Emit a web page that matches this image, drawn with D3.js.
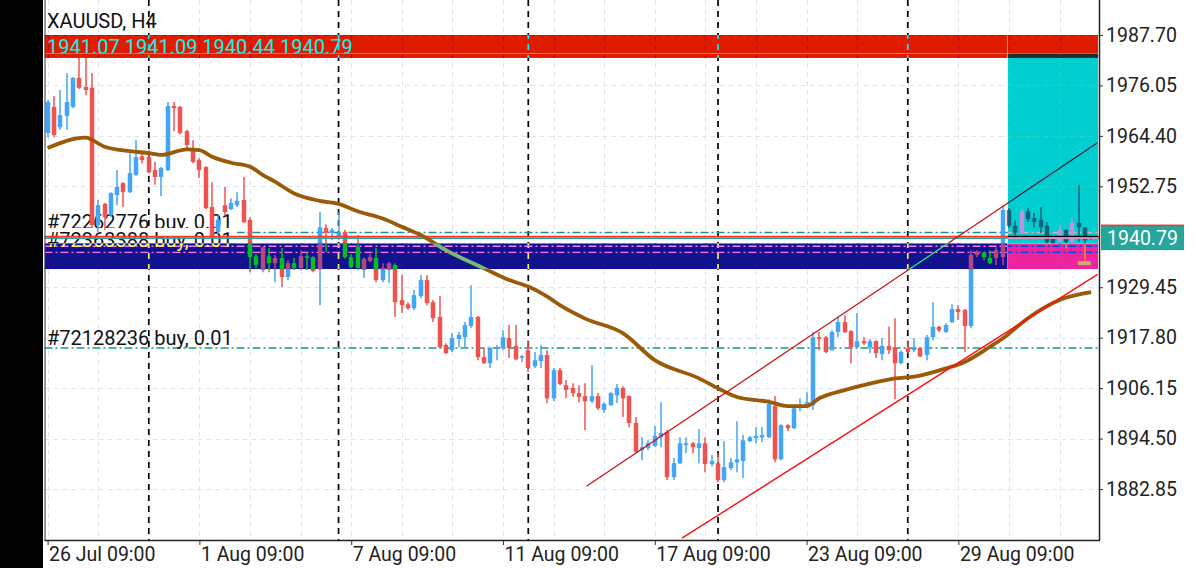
<!DOCTYPE html>
<html>
<head>
<meta charset="utf-8">
<script src="https://cdn.jsdelivr.net/npm/d3@7"></script>
<style>
html, body { margin: 0; padding: 0; background: #fff; overflow: hidden; }
svg { display: block; font-family: Roboto, "Noto Sans", sans-serif; }
</style>
</head>
<body>
<script>
// H4 bars, index 0 = 26 Jul 09:00
const open = [
1965.1,1971.1,1966.4,1969.0,1971.1,1977.8,1975.7,1975.5,1943.8,1948.7,
1946.1,1950.7,1953.5,1951.4,1955.4,1959.7,1959.5,1956.5,1954.9,1956.5,
1971.3,1971.1,1965.5,1961.6,1958.8,1957.2,1948.0,1942.2,1948.4,1947.5,
1948.4,1949.6,1945.0,1936.6,1933.4,1936.6,1935.0,1936.2,1931.8,1935.0,
1933.9,1936.6,1936.4,1933.6,1943.1,1942.0,1941.3,1942.2,1936.4,1938.7,
1933.4,1935.5,1936.2,1931.1,1933.4,1934.6,1926.5,1925.5,1924.6,1927.4,
1931.1,1926.0,1922.6,1916.1,1914.9,1917.5,1917.9,1920.5,1922.6,1913.3,
1911.9,1915.4,1915.4,1917.7,1915.9,1913.1,1914.9,1911.2,1912.4,1913.8,
1903.8,1910.3,1906.8,1906.2,1905.0,1904.3,1903.1,1904.3,1901.1,1902.2,
1904.5,1906.2,1904.3,1898.1,1891.8,1892.3,1892.8,1894.8,1896.0,1885.6,
1888.8,1893.0,1893.4,1892.3,1893.4,1888.6,1888.8,1884.9,1887.7,1889.0,
1889.3,1893.9,1894.6,1894.8,1894.8,1902.0,1889.7,1897.6,1896.9,1901.5,
1902.0,1902.2,1917.9,1917.9,1914.9,1919.1,1921.4,1919.3,1915.6,1917.0,
1915.6,1917.0,1914.0,1915.9,1915.4,1911.9,1915.4,1914.9,1915.4,1913.8,
1917.9,1920.3,1919.1,1921.4,1924.4,1924.2,1920.5,1936.9,1937.4,1936.2,
1936.2,1936.4,1947.3,1943.6,1942.0,1947.0,1945.4,1945.0,1943.6,1940.6,
1939.9,1942.7,1939.9,1944.3,1943.3,1941.07
];
const high = [
1972.7,1973.6,1975.0,1978.9,1978.0,1982.4,1982.4,1978.9,1949.6,1948.9,
1951.4,1956.5,1953.7,1960.4,1963.4,1960.4,1961.1,1958.4,1957.2,1972.2,
1972.2,1971.3,1965.8,1963.4,1959.3,1957.4,1953.7,1946.1,1952.6,1950.0,
1951.4,1954.9,1945.6,1937.1,1938.9,1938.5,1936.9,1938.5,1935.7,1936.2,
1938.0,1937.4,1936.6,1946.8,1944.0,1943.1,1946.8,1942.7,1937.1,1941.5,
1936.4,1937.1,1938.5,1935.0,1935.3,1935.0,1932.3,1926.0,1928.8,1932.3,
1932.3,1926.5,1927.4,1916.5,1918.9,1919.1,1921.4,1929.9,1922.8,1915.4,
1915.6,1916.1,1919.5,1920.7,1920.7,1913.8,1917.2,1914.5,1916.1,1914.9,
1910.8,1910.8,1908.0,1907.3,1906.8,1907.3,1911.5,1905.0,1902.9,1905.2,
1907.1,1906.6,1904.5,1899.5,1894.8,1894.1,1897.4,1902.9,1896.5,1890.0,
1894.8,1894.8,1893.7,1896.7,1894.8,1890.7,1891.1,1893.9,1890.0,1898.5,
1895.3,1895.1,1897.1,1897.1,1903.6,1904.3,1897.8,1897.8,1901.8,1903.8,
1905.2,1919.1,1919.1,1918.2,1919.5,1922.6,1923.0,1919.5,1923.5,1917.9,
1917.5,1917.2,1917.7,1920.3,1922.3,1914.9,1917.2,1917.7,1915.6,1918.4,
1926.0,1920.5,1921.2,1925.5,1925.3,1924.4,1938.0,1938.0,1937.6,1938.0,
1938.7,1948.4,1947.7,1945.0,1947.5,1947.7,1946.6,1948.0,1944.5,1940.8,
1943.8,1942.7,1945.6,1953.1,1943.3,1941.09
];
const low = [
1964.1,1964.1,1965.8,1965.8,1970.8,1975.2,1973.8,1943.1,1942.2,1942.7,
1945.6,1948.4,1948.0,1951.2,1955.1,1958.1,1955.8,1953.1,1950.5,1956.3,
1965.5,1964.8,1961.1,1958.1,1954.7,1947.5,1940.8,1941.7,1946.1,1947.3,
1948.0,1944.3,1932.9,1933.9,1932.9,1932.9,1930.6,1929.5,1931.1,1933.4,
1933.4,1933.4,1932.9,1925.3,1937.6,1940.3,1940.3,1936.0,1933.9,1933.4,
1931.6,1935.3,1930.6,1930.6,1930.4,1922.6,1923.5,1924.2,1924.2,1926.9,
1925.3,1921.4,1915.4,1914.0,1914.5,1915.6,1915.6,1920.0,1912.6,1911.7,
1910.8,1912.6,1914.9,1913.1,1912.6,1912.2,1909.8,1910.8,1910.8,1902.7,
1903.1,1906.8,1903.8,1904.1,1902.9,1896.5,1902.7,1901.1,1900.4,1902.0,
1902.7,1899.5,1897.1,1891.1,1889.5,1891.8,1892.5,1892.5,1884.9,1884.9,
1888.6,1891.1,1891.1,1888.8,1886.7,1888.1,1884.4,1884.4,1887.2,1886.7,
1885.4,1893.7,1893.4,1893.7,1894.6,1889.0,1889.5,1896.2,1896.7,1900.8,
1901.8,1901.1,1914.9,1914.2,1914.9,1917.9,1918.9,1911.9,1915.4,1916.1,
1914.2,1913.1,1912.6,1914.0,1903.6,1911.7,1914.2,1914.5,1913.3,1912.6,
1917.2,1919.1,1918.9,1921.2,1921.9,1914.5,1920.0,1936.4,1935.7,1934.8,
1934.6,1934.6,1943.1,1941.5,1941.7,1944.5,1943.3,1942.0,1939.2,1939.4,
1938.9,1938.5,1939.6,1939.9,1934.6,1940.44
];
const close = [
1972.2,1964.6,1969.2,1972.2,1977.8,1975.5,1975.0,1943.8,1948.4,1945.6,
1951.2,1952.6,1951.4,1955.8,1959.5,1958.8,1956.0,1954.9,1957.0,1971.3,
1970.8,1965.1,1962.3,1958.4,1956.5,1947.7,1941.0,1945.0,1946.8,1948.9,
1949.4,1944.5,1936.4,1934.6,1938.7,1935.0,1936.2,1931.8,1935.0,1933.9,
1936.6,1936.2,1933.2,1943.3,1942.0,1942.7,1942.0,1936.4,1934.1,1933.9,
1936.0,1936.4,1931.1,1933.9,1935.0,1926.0,1925.3,1924.6,1927.6,1931.1,
1925.8,1922.3,1915.6,1914.2,1917.7,1918.4,1920.7,1922.6,1913.3,1911.9,
1915.4,1915.6,1917.9,1915.4,1912.8,1913.5,1910.8,1912.6,1913.8,1903.8,
1910.3,1907.1,1905.7,1905.0,1904.1,1903.1,1904.3,1901.5,1902.5,1905.0,
1906.2,1903.8,1898.1,1891.4,1892.5,1893.4,1895.1,1895.8,1885.6,1888.8,
1893.4,1893.4,1892.5,1893.4,1888.6,1889.3,1884.9,1887.9,1889.0,1889.7,
1894.1,1894.8,1895.1,1895.3,1902.5,1889.7,1897.6,1896.9,1901.5,1902.0,
1902.9,1917.9,1917.5,1914.5,1919.1,1921.4,1919.1,1915.6,1917.0,1916.5,
1917.0,1914.2,1915.9,1914.9,1911.9,1914.5,1914.5,1915.4,1913.5,1917.9,
1920.3,1919.5,1920.7,1924.4,1923.7,1920.5,1936.9,1937.6,1936.4,1935.0,
1938.0,1947.3,1943.6,1942.0,1947.0,1945.2,1944.5,1943.3,1939.9,1939.6,
1942.7,1939.9,1944.3,1943.3,1940.3,1940.79
];

// moving average at some bars
const maIdx = [0,6,9,13,16,18,22,24,26,29,32,34,36,39,43,46,49,53,56,59,63,69,73,76,79,81,85,91,96,103,106,109,114,117,120,122,126,130,134,137,142,145,149,151,155,160,165];
const maVal = [1961.6,1964.0,1961.9,1960.9,1960.4,1960.0,1961.3,1961.1,1959.6,1958.2,1957.3,1955.4,1953.8,1951.1,1949.4,1948.7,1947.0,1945.3,1943.4,1941.5,1938.0,1933.8,1931.1,1929.6,1927.3,1925.3,1922.2,1918.8,1912.6,1908.4,1906.1,1904.1,1903.0,1902.0,1902.0,1903.8,1905.7,1907.2,1908.4,1908.8,1910.7,1912.2,1915.7,1917.6,1922.3,1926.5,1928.3];

// channel trend lines [bar index, price]
const upperChannel = [[85.2, 1883.5], [166, 1962.8]];
const lowerChannel = [[100.3, 1871.5], [166, 1932.4]];

const priceTicks = [1987.70, 1976.05, 1964.40, 1952.75, 1929.45, 1917.80, 1906.15, 1894.50, 1882.85];
const gridPrices = [1987.70, 1976.05, 1964.40, 1952.75, 1941.10, 1929.45, 1917.80, 1906.15, 1894.50, 1882.85];
const timeTickIdx = [0, 24, 48, 72, 96, 120, 144];
const timeTickLabels = ["26 Jul 09:00", "1 Aug 09:00", "7 Aug 09:00", "11 Aug 09:00", "17 Aug 09:00", "23 Aug 09:00", "29 Aug 09:00"];
const weekStartIdx = [16, 46, 76, 106, 136];

const symbolTitle = "XAUUSD, H4";
const lastQuote = [1941.07, 1941.09, 1940.44, 1940.79];
const bidPrice = 1940.79;
const askPrice = 1941.15;

const orderLabels = ["#72262776 buy, 0.01", "#72363388 buy, 0.01", "#72128236 buy, 0.01"];
const orderPrices = [1942.1, 1938.9, 1915.4];
const extraLevels = [1937.5];

// rectangles: [fromIdx, topPrice, bottomPrice]
const redZone = [-1, 1987.7, 1982.4];
const tradeBox = [151.8, 1983.5, 1933.6];
const blueZone = [-1, 1939.6, 1933.6];
const markerIdx = 164, markerPrice = 1935.0;

const W = 1200, H = 568;
const plotL = 44.5, plotR = 1099, plotT = 0, plotB = 540;

const x = d3.scaleLinear().domain([0, 165]).range([47.6, 1091.2]);
const y = d3.scaleLinear().domain([1882.85, 1987.70]).range([489, 35]);

const BULL = "#42a5f5", BEAR = "#ef5350", GRID = "#dce5ec", TEXT = "#111111";
const MA = "#9a5a08", ORDER = "#119a8a", BID = "#26a69a", ASK = "#ff3030";
const labelFont = "20px";
const labelBaseline = [y(orderPrices[0]) - 3, y(orderPrices[1]) + 0.5, y(orderPrices[2]) - 3];

const svg = d3.select("body").append("svg").attr("width", W).attr("height", H);
const defs = svg.append("defs");
svg.append("rect").attr("width", W).attr("height", H).attr("fill", "#fff");

function xorColor(c, mask) {
    const r = d3.rgb(c);
    return d3.rgb(r.r ^ ((mask >> 16) & 255), r.g ^ ((mask >> 8) & 255), r.b ^ (mask & 255)).formatHex();
}

function drawLayer(g, f) {
    g.append("g").selectAll("line").data(d3.range(0, 170, 8)).join("line")
        .attr("x1", d => Math.round(x(d)) + 0.5).attr("x2", d => Math.round(x(d)) + 0.5)
        .attr("y1", plotT).attr("y2", plotB)
        .attr("stroke", f(GRID)).attr("stroke-dasharray", "5,4");
    g.append("g").selectAll("line").data(gridPrices).join("line")
        .attr("x1", plotL).attr("x2", plotR)
        .attr("y1", d => Math.round(y(d)) + 0.5).attr("y2", d => Math.round(y(d)) + 0.5)
        .attr("stroke", f(GRID)).attr("stroke-dasharray", "5,4");

    g.append("g").selectAll("line").data(weekStartIdx).join("line")
        .attr("x1", d => x(d)).attr("x2", d => x(d))
        .attr("y1", plotT).attr("y2", plotB)
        .attr("stroke", f("#000000")).attr("stroke-width", 1.7).attr("stroke-dasharray", "6,5");

    // order lines
    g.append("g").selectAll("line").data(orderPrices.concat(extraLevels)).join("line")
        .attr("x1", plotL).attr("x2", plotR)
        .attr("y1", d => y(d)).attr("y2", d => y(d))
        .attr("stroke", f(ORDER)).attr("stroke-width", 1.4).attr("stroke-dasharray", "8,3,2,3");

    // order labels; the second one sits on a white box that hides what is under it
    const t = g.append("g").attr("font-size", labelFont).attr("fill", f(TEXT));
    t.append("text").attr("x", 47).attr("y", labelBaseline[0]).text(orderLabels[0]);
    t.append("rect").attr("x", plotL).attr("width", 237 - plotL)
        .attr("y", labelBaseline[0] - 1.5).attr("height", y(blueZone[1]) - labelBaseline[0] + 1.5)
        .attr("fill", f("#ffffff"));
    t.append("text").attr("x", 47).attr("y", labelBaseline[1]).text(orderLabels[1]);
    t.append("text").attr("x", 47).attr("y", labelBaseline[2]).text(orderLabels[2]);

    // candles
    const idx = d3.range(open.length);
    const cg = g.append("g");
    cg.selectAll("line").data(idx).join("line")
        .attr("x1", i => Math.round(x(i))).attr("x2", i => Math.round(x(i)))
        .attr("y1", i => y(high[i])).attr("y2", i => y(low[i]))
        .attr("stroke", i => f(close[i] >= open[i] ? BULL : BEAR)).attr("stroke-width", 1.5);
    cg.selectAll("rect").data(idx).join("rect")
        .attr("x", i => Math.round(x(i)) - 2.25).attr("width", 4.5)
        .attr("y", i => y(Math.max(open[i], close[i])))
        .attr("height", i => Math.max(1.2, Math.abs(y(open[i]) - y(close[i]))))
        .attr("fill", i => f(close[i] >= open[i] ? BULL : BEAR));

    g.append("rect")
        .attr("x", x(markerIdx) - 7).attr("width", 13)
        .attr("y", y(markerPrice) - 2).attr("height", 4)
        .attr("fill", f("#c27430"));

    // ask / bid lines
    g.append("line").attr("x1", plotL).attr("x2", plotR)
        .attr("y1", y(askPrice)).attr("y2", y(askPrice))
        .attr("stroke", f(ASK)).attr("stroke-width", 1.6);
    g.append("line").attr("x1", plotL).attr("x2", plotR)
        .attr("y1", y(bidPrice)).attr("y2", y(bidPrice))
        .attr("stroke", f(BID)).attr("stroke-width", 1.6);

    // moving average
    const maLine = d3.line().x(d => x(d[0])).y(d => y(d[1])).curve(d3.curveMonotoneX);
    g.append("path").datum(maIdx.map((d, i) => [d, maVal[i]]))
        .attr("d", maLine).attr("fill", "none")
        .attr("stroke", f(MA)).attr("stroke-width", 3.8).attr("stroke-linejoin", "round");

    // channel
    const tl = d3.line().x(d => x(d[0])).y(d => y(d[1]));
    g.append("path").datum(upperChannel).attr("d", tl)
        .attr("stroke", f("#c81010")).attr("stroke-width", 1.2).attr("fill", "none");
    g.append("path").datum(lowerChannel).attr("d", tl)
        .attr("stroke", f("#ff1010")).attr("stroke-width", 1.4).attr("fill", "none");

    // header texts
    const h = g.append("g").attr("font-size", labelFont).attr("fill", f(TEXT));
    h.append("text").attr("x", 47).attr("y", 28).text(symbolTitle);
    h.append("text").attr("x", 47).attr("y", 54).text(lastQuote.map(d => d.toFixed(2)).join(" "));
}

// base layer
defs.append("clipPath").attr("id", "plotClip").append("rect")
    .attr("x", plotL).attr("y", plotT).attr("width", plotR - plotL).attr("height", plotB - plotT);
drawLayer(svg.append("g").attr("clip-path", "url(#plotClip)"), c => c);

// rectangles drawn by xor over the chart
const zones = [
    { x0: plotL, x1: plotR - 1, y0: y(redZone[1]), y1: y(redZone[2]), color: "#e01c00" },
    { x0: x(tradeBox[0]), x1: plotR - 1, y0: y(tradeBox[1]), y1: y(tradeBox[2]), color: "#00ced1" },
    { x0: plotL, x1: plotR - 1, y0: y(blueZone[1]), y1: y(blueZone[2]), color: "#12128e" }
];
const xs = [...new Set(zones.flatMap(z => [z.x0, z.x1]))].sort((a, b) => a - b);
const ys = [...new Set(zones.flatMap(z => [z.y0, z.y1]))].sort((a, b) => a - b);
let cellId = 0;
for (let a = 0; a < xs.length - 1; a++) {
    for (let b = 0; b < ys.length - 1; b++) {
        const mx = (xs[a] + xs[a + 1]) / 2, my = (ys[b] + ys[b + 1]) / 2;
        let mask = 0;
        zones.forEach(z => {
            if (mx > z.x0 && mx < z.x1 && my > z.y0 && my < z.y1) mask ^= (0xffffff ^ parseInt(z.color.slice(1), 16));
        });
        if (!mask) continue;
        const id = "cell" + (cellId++);
        defs.append("clipPath").attr("id", id).append("rect")
            .attr("x", xs[a]).attr("y", ys[b]).attr("width", xs[a + 1] - xs[a]).attr("height", ys[b + 1] - ys[b]);
        const g = svg.append("g").attr("clip-path", `url(#${id})`);
        g.append("rect").attr("x", xs[a]).attr("y", ys[b])
            .attr("width", xs[a + 1] - xs[a]).attr("height", ys[b + 1] - ys[b])
            .attr("fill", xorColor("#ffffff", mask));
        drawLayer(g, c => xorColor(c, mask));
    }
}

// frame
svg.append("rect").attr("x", 0).attr("y", 0).attr("width", 43).attr("height", H).attr("fill", "#000");
svg.append("line").attr("x1", 45).attr("x2", 45).attr("y1", 0).attr("y2", plotB).attr("stroke", "#333").attr("stroke-width", 1);

// right axis
const ya = svg.append("g").attr("transform", `translate(${plotR},0)`)
    .call(d3.axisRight(y).tickValues(priceTicks).tickFormat(d3.format(".2f")).tickSize(4).tickPadding(3).tickSizeOuter(0));
ya.select(".domain").remove();
ya.selectAll("text").attr("font-size", "19.5px").attr("font-family", "Roboto").attr("fill", "#222");
ya.selectAll("line").attr("stroke", "#333");
svg.append("line").attr("x1", plotR + 0.5).attr("x2", plotR + 0.5).attr("y1", 0).attr("y2", plotB)
    .attr("stroke", "#222").attr("stroke-width", 1.5);

// price labels
svg.append("rect").attr("x", plotR + 2).attr("y", y(askPrice) - 12).attr("width", 83).attr("height", 24).attr("fill", ASK);
svg.append("rect").attr("x", plotR + 2).attr("y", y(bidPrice) - 12).attr("width", 83).attr("height", 24).attr("fill", BID);
svg.append("text").attr("x", plotR + 8).attr("y", y(bidPrice)).attr("dy", "0.36em")
    .attr("font-size", "19.5px").attr("fill", "#fff").text(bidPrice.toFixed(2));

// bottom axis
const xa = svg.append("g").attr("transform", `translate(0,${plotB})`)
    .call(d3.axisBottom(x).tickValues(timeTickIdx).tickFormat((d, i) => timeTickLabels[i]).tickSize(5).tickPadding(2).tickSizeOuter(0));
xa.select(".domain").remove();
xa.selectAll("text").attr("font-size", "19.5px").attr("font-family", "Roboto").attr("fill", "#222")
    .attr("text-anchor", "start").attr("x", 1);
xa.selectAll("line").attr("stroke", "#333");
svg.append("line").attr("x1", plotL).attr("x2", plotR + 1).attr("y1", plotB + 0.5).attr("y2", plotB + 0.5)
    .attr("stroke", "#222").attr("stroke-width", 1.5);
</script>
</body>
</html>
